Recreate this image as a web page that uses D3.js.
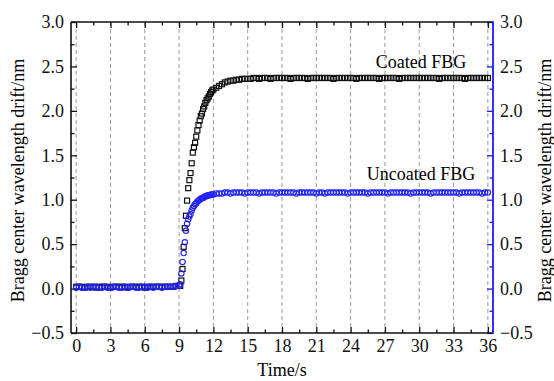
<!DOCTYPE html>
<html>
<head>
<meta charset="utf-8">
<script src="https://cdn.jsdelivr.net/npm/d3@7"></script>
<style>
  body { margin: 0; background: #fff; }
  svg text { font-family: "Liberation Serif", "Times New Roman", serif; }
</style>
</head>
<body>
<div id="chart"></div>
<script>
const width = 554;
const height = 381;
const padding = {left: 71, right: 61, top: 22, bottom: 48};

// time in seconds (denser sampling kept only where the curves rise)
const time = [
  0,0.25,0.5,0.75,1,1.25,1.5,1.75,2,2.25,2.5,2.75,3,3.25,3.5,3.75,4,4.25,4.5,
  4.75,5,5.25,5.5,5.75,6,6.25,6.5,6.75,7,7.25,7.5,7.75,8,8.25,8.5,8.75,9,
  9.1,9.2,9.3,9.4,9.5,9.6,9.7,9.8,9.9,10,10.1,10.2,10.3,10.4,10.5,10.6,10.7,
  10.8,10.9,11,11.1,11.2,11.3,11.4,11.5,11.6,11.7,11.8,11.9,12,
  12.25,12.5,12.75,13,13.25,13.5,13.75,14,14.25,14.5,14.75,15,
  15.25,15.5,15.75,16,16.25,16.5,16.75,17,17.25,17.5,17.75,18,
  18.25,18.5,18.75,19,19.25,19.5,19.75,20,20.25,20.5,20.75,21,
  21.25,21.5,21.75,22,22.25,22.5,22.75,23,23.25,23.5,23.75,24,
  24.25,24.5,24.75,25,25.25,25.5,25.75,26,26.25,26.5,26.75,27,
  27.25,27.5,27.75,28,28.25,28.5,28.75,29,29.25,29.5,29.75,30,
  30.25,30.5,30.75,31,31.25,31.5,31.75,32,32.25,32.5,32.75,33,
  33.25,33.5,33.75,34,34.25,34.5,34.75,35,35.25,35.5,35.75,36
];

// Bragg wavelength drift (nm), coated FBG
const coated = [
  0.02,0.02,0.02,0.01,0.02,0.02,0.02,0.01,0.02,0.02,0.02,0.02,0.01,0.02,0.02,0.02,0.02,0.02,0.01,
  0.02,0.02,0.02,0.02,0.02,0.01,0.02,0.02,0.02,0.02,0.02,0.02,0.02,0.02,0.02,0.02,0.03,0.03,
  0.03,0.09,0.22,0.47,0.68,0.82,0.99,1.13,1.22,1.30,1.41,1.53,1.59,1.64,1.71,1.78,1.84,
  1.89,1.94,1.97,2.02,2.05,2.09,2.12,2.14,2.16,2.19,2.21,2.23,2.24,
  2.26,2.28,2.30,2.32,2.33,2.34,2.34,2.35,2.35,2.36,2.36,2.36,
  2.36,2.37,2.37,2.36,2.37,2.37,2.37,2.36,2.37,2.37,2.37,2.37,
  2.37,2.37,2.36,2.37,2.37,2.37,2.37,2.37,2.36,2.37,2.37,2.37,
  2.37,2.37,2.37,2.37,2.37,2.36,2.37,2.37,2.37,2.37,2.37,2.37,
  2.37,2.36,2.37,2.37,2.37,2.37,2.37,2.37,2.37,2.36,2.37,2.37,
  2.37,2.37,2.37,2.37,2.36,2.37,2.37,2.37,2.37,2.37,2.37,2.37,
  2.37,2.37,2.37,2.37,2.37,2.37,2.36,2.37,2.37,2.37,2.37,2.37,
  2.37,2.37,2.37,2.36,2.37,2.37,2.37,2.37,2.37,2.37,2.37,2.37
];

// Bragg wavelength drift (nm), uncoated FBG
const uncoated = [
  0.01,0.02,0.01,0.01,0.02,0.01,0.02,0.02,0.01,0.01,0.02,0.01,0.01,0.02,0.02,0.01,0.01,0.02,0.01,
  0.02,0.02,0.01,0.01,0.02,0.02,0.01,0.02,0.01,0.02,0.02,0.01,0.02,0.02,0.02,0.02,0.03,0.03,
  0.05,0.17,0.30,0.40,0.52,0.65,0.73,0.78,0.81,0.84,0.88,0.91,0.93,0.95,0.96,0.98,0.99,
  1.00,1.01,1.02,1.02,1.03,1.04,1.04,1.05,1.05,1.05,1.06,1.06,1.06,
  1.07,1.07,1.07,1.08,1.08,1.07,1.08,1.08,1.08,1.08,1.07,1.08,
  1.08,1.08,1.08,1.07,1.08,1.08,1.08,1.08,1.08,1.07,1.08,1.08,
  1.08,1.08,1.08,1.08,1.07,1.08,1.08,1.08,1.08,1.08,1.08,1.07,
  1.08,1.08,1.07,1.08,1.08,1.08,1.08,1.08,1.08,1.08,1.07,1.08,
  1.08,1.08,1.08,1.08,1.08,1.07,1.08,1.08,1.08,1.08,1.08,1.08,
  1.07,1.08,1.08,1.08,1.08,1.08,1.08,1.08,1.07,1.08,1.08,1.08,
  1.08,1.08,1.08,1.07,1.08,1.08,1.08,1.08,1.08,1.08,1.08,1.08,
  1.08,1.07,1.08,1.08,1.08,1.08,1.08,1.08,1.08,1.07,1.08,1.08
];

const xTicks = [0, 3, 6, 9, 12, 15, 18, 21, 24, 27, 30, 33, 36];
const yTicks = [-0.5, 0, 0.5, 1.0, 1.5, 2.0, 2.5, 3.0];

const blue = '#1a1aff';
const fontSize = 18;

const svg = d3.select('#chart')
  .append('svg')
  .attr('width', width)
  .attr('height', height);

const x = d3.scaleLinear()
  .domain([-0.45, 36.45])
  .range([padding.left, width - padding.right]);

const y = d3.scaleLinear()
  .domain([-0.5, 3.0])
  .range([height - padding.bottom, padding.top]);

// minor ticks sit half-way between the major ones
const xMinor = xTicks.slice(1).map((t, i) => (t + xTicks[i]) / 2);
const yMinor = yTicks.slice(1).map((t, i) => (t + yTicks[i]) / 2);

// dashed vertical grid
svg.append('g')
  .selectAll('line')
  .data(xTicks)
  .join('line')
  .attr('x1', d => x(d)).attr('x2', d => x(d))
  .attr('y1', padding.top).attr('y2', height - padding.bottom)
  .attr('stroke', '#9a9a9a')
  .attr('stroke-width', 1)
  .attr('stroke-dasharray', '4,3');

function styleAxis(g, color) {
  g.select('.domain').remove();
  g.selectAll('line').attr('stroke', color).attr('stroke-width', 1.3);
  g.selectAll('text')
    .attr('fill', '#111')
    .style('font-size', fontSize + 'px')
    .style('font-family', '"Liberation Serif", "Times New Roman", serif');
}

const bottom = height - padding.bottom;
const right = width - padding.right;

// bottom axis
svg.append('g')
  .attr('transform', 'translate(0,' + bottom + ')')
  .call(d3.axisBottom(x).tickValues(xTicks).tickFormat(d3.format('d')).tickSize(-6).tickPadding(6))
  .call(g => styleAxis(g, '#111'));
svg.append('g')
  .attr('transform', 'translate(0,' + bottom + ')')
  .call(d3.axisBottom(x).tickValues(xMinor).tickFormat('').tickSize(-3.5))
  .call(g => styleAxis(g, '#111'));

// top axis (ticks only)
svg.append('g')
  .attr('transform', 'translate(0,' + padding.top + ')')
  .call(d3.axisTop(x).tickValues(xTicks).tickFormat('').tickSize(-6))
  .call(g => styleAxis(g, '#111'));
svg.append('g')
  .attr('transform', 'translate(0,' + padding.top + ')')
  .call(d3.axisTop(x).tickValues(xMinor).tickFormat('').tickSize(-3.5))
  .call(g => styleAxis(g, '#111'));

// left axis
svg.append('g')
  .attr('transform', 'translate(' + padding.left + ',0)')
  .call(d3.axisLeft(y).tickValues(yTicks).tickFormat(d3.format('.1f')).tickSize(-6).tickPadding(7))
  .call(g => styleAxis(g, '#111'));
svg.append('g')
  .attr('transform', 'translate(' + padding.left + ',0)')
  .call(d3.axisLeft(y).tickValues(yMinor).tickFormat('').tickSize(-3.5))
  .call(g => styleAxis(g, '#111'));

// right axis (blue)
svg.append('g')
  .attr('transform', 'translate(' + right + ',0)')
  .call(d3.axisRight(y).tickValues(yTicks).tickFormat(d3.format('.1f')).tickSize(-6).tickPadding(7))
  .call(g => styleAxis(g, blue));
svg.append('g')
  .attr('transform', 'translate(' + right + ',0)')
  .call(d3.axisRight(y).tickValues(yMinor).tickFormat('').tickSize(-3.5))
  .call(g => styleAxis(g, blue));

// frame
const frame = svg.append('g').attr('fill', 'none');
frame.append('line')
  .attr('x1', padding.left).attr('x2', right)
  .attr('y1', padding.top).attr('y2', padding.top)
  .attr('stroke', '#111').attr('stroke-width', 1.6);
frame.append('line')
  .attr('x1', padding.left).attr('x2', right)
  .attr('y1', bottom).attr('y2', bottom)
  .attr('stroke', '#111').attr('stroke-width', 1.6);
frame.append('line')
  .attr('x1', padding.left).attr('x2', padding.left)
  .attr('y1', padding.top).attr('y2', bottom)
  .attr('stroke', '#111').attr('stroke-width', 1.6);
frame.append('line')
  .attr('x1', right).attr('x2', right)
  .attr('y1', padding.top - 0.8).attr('y2', bottom + 0.8)
  .attr('stroke', blue).attr('stroke-width', 1.8);

// coated FBG: open squares
const sq = 5;
svg.append('g')
  .selectAll('rect')
  .data(time.map((t, i) => [t, coated[i]]))
  .join('rect')
  .attr('x', d => x(d[0]) - sq / 2)
  .attr('y', d => y(d[1]) - sq / 2)
  .attr('width', sq)
  .attr('height', sq)
  .attr('fill', 'none')
  .attr('stroke', '#111')
  .attr('stroke-width', 1.2);

// uncoated FBG: open circles
svg.append('g')
  .selectAll('circle')
  .data(time.map((t, i) => [t, uncoated[i]]))
  .join('circle')
  .attr('cx', d => x(d[0]))
  .attr('cy', d => y(d[1]))
  .attr('r', 2.7)
  .attr('fill', 'none')
  .attr('stroke', '#2323f0')
  .attr('stroke-width', 1.1);

// curve labels
svg.append('text')
  .attr('x', 421).attr('y', 68)
  .attr('text-anchor', 'middle')
  .style('font-size', fontSize + 'px')
  .text('Coated FBG');
svg.append('text')
  .attr('x', 421).attr('y', 180)
  .attr('text-anchor', 'middle')
  .style('font-size', fontSize + 'px')
  .text('Uncoated FBG');

// axis titles
svg.append('text')
  .attr('x', (padding.left + right) / 2)
  .attr('y', 376)
  .attr('text-anchor', 'middle')
  .style('font-size', fontSize + 'px')
  .text('Time/s');

svg.append('text')
  .attr('transform', 'translate(24,' + ((padding.top + bottom) / 2 + 3) + ') rotate(-90)')
  .attr('text-anchor', 'middle')
  .style('font-size', fontSize + 'px')
  .text('Bragg center wavelength drift/nm');

svg.append('text')
  .attr('transform', 'translate(551,' + ((padding.top + bottom) / 2 + 3) + ') rotate(-90)')
  .attr('text-anchor', 'middle')
  .style('font-size', fontSize + 'px')
  .text('Bragg center wavelength drift/nm');
</script>
</body>
</html>
